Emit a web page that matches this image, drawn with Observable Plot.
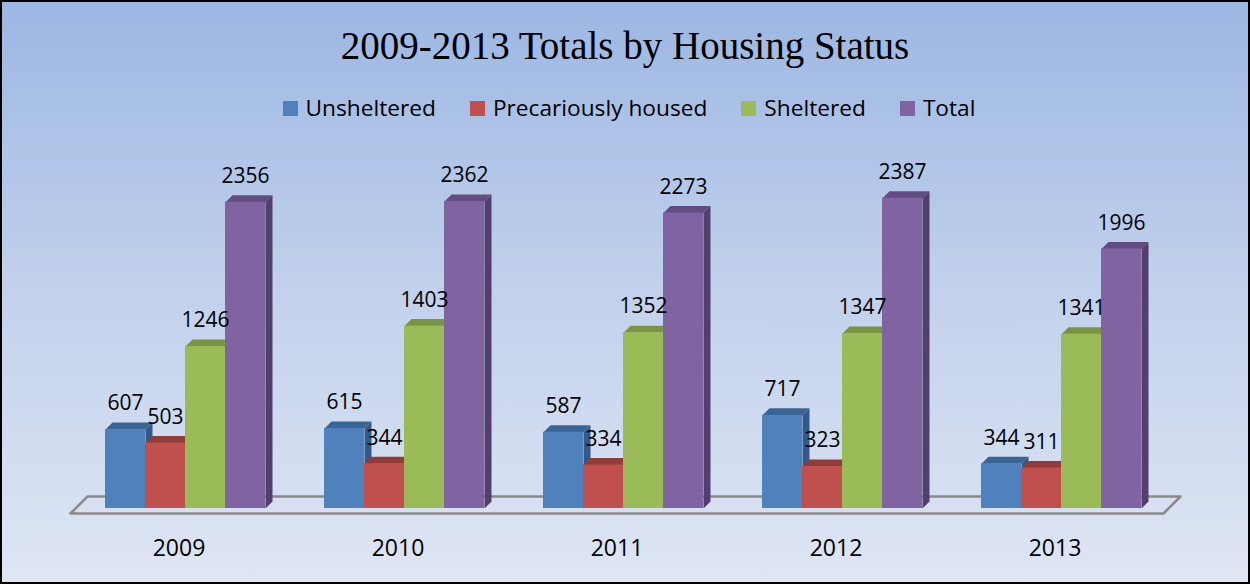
<!DOCTYPE html>
<html><head><meta charset="utf-8">
<script src="https://cdn.jsdelivr.net/npm/d3@7"></script>
<script src="https://cdn.jsdelivr.net/npm/@observablehq/plot@0.6"></script>
<style>
html,body{margin:0;padding:0;}
body{width:1250px;height:584px;overflow:hidden;}
#chart{position:relative;width:1250px;height:584px;background:linear-gradient(to bottom,#9cb7e3 0%,#c2d1ec 50%,#dfe6f4 100%);overflow:hidden;}
#border{position:absolute;left:0;top:0;width:1250px;height:584px;box-sizing:border-box;border:2px solid #000;pointer-events:none;}
#title{position:absolute;left:0;top:26px;width:1250px;text-align:center;font-family:"Liberation Serif",serif;font-size:39px;line-height:39px;color:#000;white-space:nowrap;}
#legend{position:absolute;left:4px;top:97px;width:1250px;text-align:center;font-family:"Open Sans",sans-serif;font-size:22.7px;line-height:22.7px;white-space:nowrap;color:#000;}
.item{display:inline-block;margin:0 17px;}
.sw{display:inline-block;width:15px;height:15px;margin-right:8px;vertical-align:baseline;}
#plot{position:absolute;left:0;top:140px;}
</style></head><body>
<div id="chart">
  <div id="title">2009-2013 Totals by Housing Status</div>
  <div id="legend"></div>
  <div id="plot"></div>
  <div id="border"></div>
</div>
<script>
const years = ["2009", "2010", "2011", "2012", "2013"];
const seriesNames = ["Unsheltered", "Precariously housed", "Sheltered", "Total"];
const unsheltered = [607, 615, 587, 717, 344];
const precarious = [503, 344, 334, 323, 311];
const sheltered = [1246, 1403, 1352, 1347, 1341];
const total = [2356, 2362, 2273, 2387, 1996];
const seriesColors = ["#4f81bd", "#c0504d", "#9bbb59", "#8064a2"];
const topColors = ["#3b6496", "#923c3a", "#7a9444", "#634c82"];
const sideColors = ["#33588a", "#843634", "#6c843c", "#523f6d"];

const W = 1250, H = 444, mL = 75.5, mR = 79.5, mT = 43, mB = 76;
const yMax = 2500;
const kx = (W - mL - mR) / years.length;
const ky = (H - mT - mB) / yMax;
const barW = 40 / kx, depthX = 7 / kx, depthY = 7 / ky;
const labelShift = 6.5 / kx;
const values = [unsheltered, precarious, sheltered, total];

const bars = [];
values.forEach((vals, k) => vals.forEach((v, i) => {
  const x1 = i - 2 * barW + k * barW;
  bars.push({k, i, id: k + "-" + i, x1, x2: x1 + barW, y0: 0, v});
}));
const tops = bars.flatMap(b => [[b.x1, b.v], [b.x2, b.v], [b.x2 + depthX, b.v + depthY], [b.x1 + depthX, b.v + depthY]]
  .map(([x, y]) => ({id: b.id, k: b.k, x, y})));
const sides = bars.flatMap(b => [[b.x2, 0], [b.x2, b.v], [b.x2 + depthX, b.v + depthY], [b.x2 + depthX, depthY]]
  .map(([x, y]) => ({id: b.id, k: b.k, x, y})));

const x0 = -0.5, x1d = years.length - 0.5;
const fb = -5 / ky, ft = 12 / ky;
const fl = x0 - 5.5 / kx, fr = x1d - 7.5 / kx, sh = 17 / kx;
const floor = [[fl, fb], [fr, fb], [fr + sh, ft], [fl + sh, ft], [fl, fb]].map(([x, y]) => ({x, y}));

const marks = [
  Plot.line(floor, {x: "x", y: "y", stroke: "#8a8a8a", strokeWidth: 2.5, fill: "none"})
];
for (let k = 0; k < 4; k++) {
  marks.push(Plot.line(sides.filter(d => d.k === k), {x: "x", y: "y", z: "id", fill: sideColors[k], stroke: "none"}));
  marks.push(Plot.line(tops.filter(d => d.k === k), {x: "x", y: "y", z: "id", fill: topColors[k], stroke: "none"}));
}
for (let k = 0; k < 4; k++) {
  marks.push(Plot.rect(bars.filter(d => d.k === k), {x1: "x1", x2: "x2", y1: "y0", y2: "v", fill: seriesColors[k]}));
}
for (let k = 0; k < 4; k++) {
  marks.push(Plot.text(bars.filter(d => d.k === k), {x: d => (d.x1 + d.x2) / 2, y: "v", text: d => String(d.v), dy: -26, fontSize: 21, fill: "#000"}));
}

const chart = Plot.plot({
  width: W, height: H, marginLeft: mL, marginRight: mR, marginTop: mT, marginBottom: mB,
  style: {background: "transparent", fontFamily: "Open Sans", fontSize: "23px", color: "#000", overflow: "visible"},
  x: {type: "linear", domain: [x0, x1d], ticks: d3.range(years.length).map(i => i - labelShift), tickFormat: t => years[Math.round(t)], tickSize: 0, tickPadding: 31, label: null},
  y: {domain: [0, yMax], axis: null},
  marks
});
document.getElementById("plot").appendChild(chart);

const legend = document.getElementById("legend");
seriesNames.forEach((name, k) => {
  const item = document.createElement("span");
  item.className = "item";
  const sw = document.createElement("span");
  sw.className = "sw";
  sw.style.background = seriesColors[k];
  item.appendChild(sw);
  item.appendChild(document.createTextNode(name));
  legend.appendChild(item);
});
</script>
</body></html>
